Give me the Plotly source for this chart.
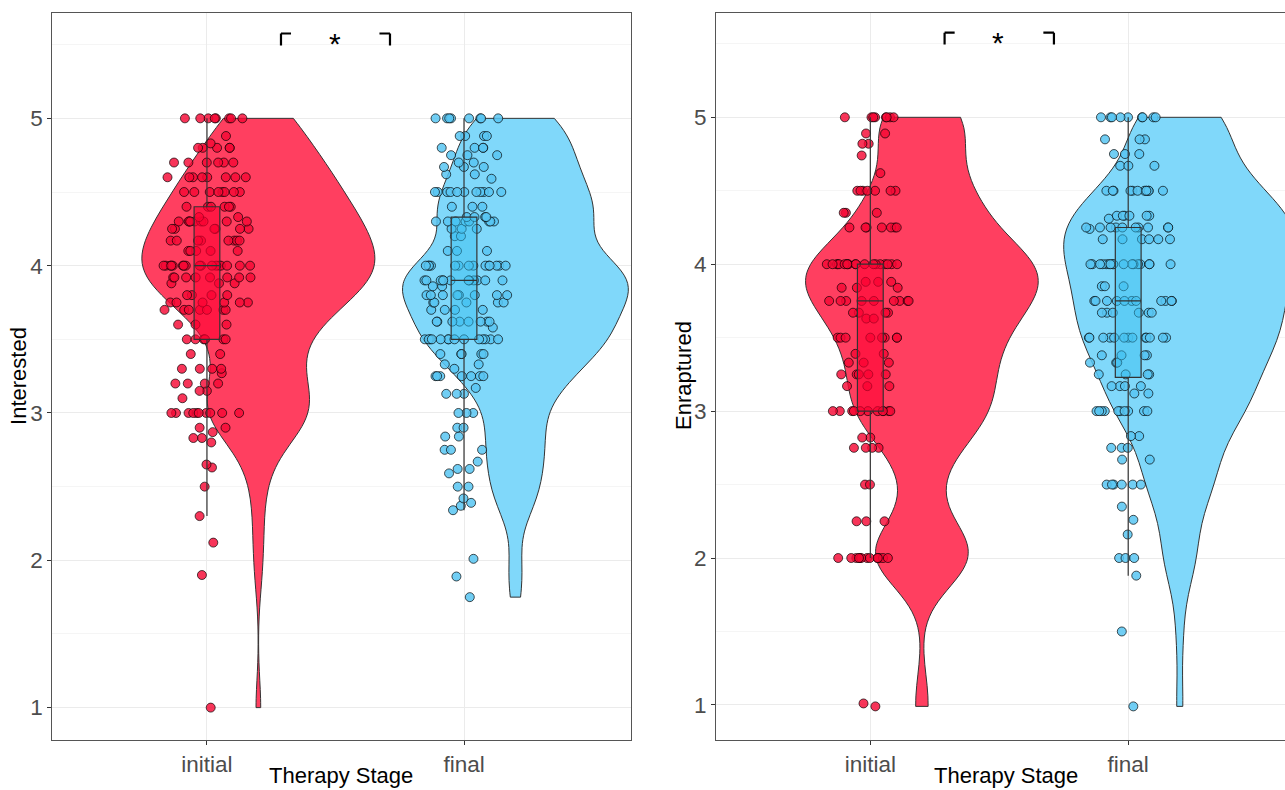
import numpy as np
import plotly.graph_objects as go

# ---------------- data ----------------
categories = ["initial", "final"]
cat_pos = [1, 2]

interested_initial = [
    5.0, 5.0, 5.0, 5.0, 5.0, 5.0, 5.0, 5.0,
    4.88,
    4.8, 4.8, 4.8, 4.8, 4.8, 4.83,
    4.7, 4.7, 4.7, 4.7, 4.7, 4.7,
    4.6, 4.6, 4.6, 4.6, 4.6, 4.6, 4.6, 4.6,
    4.5, 4.5, 4.5, 4.5, 4.5, 4.5, 4.5, 4.5,
    4.4, 4.4, 4.4, 4.4, 4.4, 4.4,
    4.33, 4.33,
    4.3, 4.3, 4.3, 4.3, 4.3, 4.3, 4.3, 4.3, 4.3,
    4.25, 4.25, 4.25, 4.25, 4.25, 4.25,
    4.17, 4.17, 4.17, 4.17, 4.17, 4.17, 4.17, 4.17,
    4.1, 4.1, 4.1, 4.1, 4.1,
    4.0, 4.0, 4.0, 4.0, 4.0, 4.0, 4.0, 4.0, 4.0, 4.0, 4.0, 4.0, 4.0, 4.0, 4.0, 4.0, 4.0,
    3.92, 3.92, 3.92, 3.92, 3.92, 3.92, 3.92, 3.92,
    3.88, 3.88, 3.88,
    3.8, 3.8, 3.8, 3.8,
    3.75, 3.75, 3.75, 3.75, 3.75, 3.75,
    3.7, 3.7, 3.7, 3.7, 3.7, 3.7, 3.7,
    3.6, 3.6, 3.6,
    3.5, 3.5, 3.5, 3.5, 3.5, 3.5,
    3.4, 3.4,
    3.3, 3.3, 3.3, 3.3, 3.27,
    3.2, 3.2, 3.2, 3.2,
    3.15, 3.15, 3.1,
    3.0, 3.0, 3.0, 3.0, 3.0, 3.0, 3.0, 3.0, 3.0, 3.0,
    2.9, 2.9, 2.87, 2.83, 2.83, 2.8,
    2.65, 2.63, 2.5, 2.3, 2.12, 1.9, 1.0,
]

interested_final = [
    5.0, 5.0, 5.0, 5.0, 5.0, 5.0, 5.0, 5.0,
    4.88, 4.88, 4.88, 4.88,
    4.8, 4.8, 4.8, 4.8,
    4.75, 4.75, 4.75,
    4.7, 4.7,
    4.67, 4.67, 4.67, 4.62, 4.62, 4.59,
    4.5, 4.5, 4.5, 4.5, 4.5, 4.5, 4.5, 4.5, 4.5, 4.5, 4.5,
    4.4, 4.4, 4.4,
    4.33, 4.33, 4.33, 4.33,
    4.3, 4.3, 4.3, 4.3, 4.3, 4.3, 4.3, 4.3,
    4.25, 4.25, 4.25,
    4.2, 4.2,
    4.1, 4.1, 4.1,
    4.0, 4.0, 4.0, 4.0, 4.0, 4.0, 4.0, 4.0, 4.0, 4.0, 4.0, 4.0, 4.0, 4.0,
    3.9, 3.9, 3.9, 3.9, 3.9, 3.9, 3.9, 3.9, 3.9, 3.9, 3.9, 3.9,
    3.86, 3.86,
    3.8, 3.8, 3.8, 3.8, 3.8, 3.8, 3.8, 3.8,
    3.75, 3.75, 3.75, 3.75, 3.75,
    3.7, 3.7, 3.7, 3.7,
    3.62, 3.62, 3.62, 3.62, 3.62, 3.62, 3.62, 3.62,
    3.58,
    3.5, 3.5, 3.5, 3.5, 3.5, 3.5, 3.5, 3.5, 3.5, 3.5, 3.5, 3.5, 3.5, 3.5,
    3.4, 3.4, 3.4, 3.4, 3.4,
    3.33, 3.33, 3.3,
    3.25, 3.25, 3.25, 3.25, 3.25, 3.25, 3.25,
    3.17, 3.13, 3.13, 3.13,
    3.0, 3.0, 3.0,
    2.9, 2.9, 2.84, 2.84,
    2.75, 2.75, 2.75, 2.67, 2.62, 2.62, 2.59,
    2.5, 2.5, 2.42, 2.39, 2.37, 2.34,
    2.01, 1.89, 1.75,
]

enraptured_initial = [
    5.0, 5.0, 5.0, 5.0, 5.0, 5.0, 5.0, 5.0,
    4.89, 4.89, 4.82, 4.82, 4.74, 4.62,
    4.5, 4.5, 4.5, 4.5, 4.5, 4.5, 4.5,
    4.35, 4.35, 4.35,
    4.25, 4.25, 4.25, 4.25, 4.25, 4.25, 4.25,
    4.0, 4.0, 4.0, 4.0, 4.0, 4.0, 4.0, 4.0, 4.0, 4.0,
    4.0, 4.0, 4.0, 4.0, 4.0, 4.0, 4.0, 4.0, 4.0,
    3.88, 3.88, 3.88,
    3.84, 3.84, 3.84,
    3.75, 3.75, 3.75, 3.75, 3.75, 3.75, 3.75, 3.75, 3.75,
    3.67, 3.67, 3.67, 3.67, 3.63, 3.63,
    3.5, 3.5, 3.5, 3.5, 3.5, 3.5, 3.5, 3.5,
    3.39, 3.39, 3.33, 3.33, 3.33,
    3.25, 3.25, 3.25, 3.25, 3.25,
    3.17, 3.17, 3.17,
    3.0, 3.0, 3.0, 3.0, 3.0, 3.0, 3.0, 3.0, 3.0, 3.0, 3.0,
    2.82, 2.82, 2.75, 2.75, 2.75, 2.75,
    2.5, 2.5, 2.25, 2.25, 2.25,
    2.0, 2.0, 2.0, 2.0, 2.0, 2.0, 2.0, 2.0, 2.0, 2.0, 2.0, 2.0, 2.0,
    1.01, 0.99,
]

enraptured_final = [
    5.0, 5.0, 5.0, 5.0, 5.0, 5.0, 5.0, 5.0, 5.0,
    4.85, 4.85, 4.85,
    4.75, 4.75, 4.75,
    4.67, 4.67, 4.67,
    4.5, 4.5, 4.5, 4.5, 4.5, 4.5, 4.5, 4.5, 4.5, 4.5, 4.5, 4.5,
    4.33, 4.33, 4.33, 4.33, 4.33, 4.33, 4.31,
    4.25, 4.25, 4.25, 4.25, 4.25, 4.25, 4.25, 4.25, 4.25, 4.25, 4.24,
    4.17, 4.17, 4.17, 4.17, 4.17, 4.17,
    4.0, 4.0, 4.0, 4.0, 4.0, 4.0, 4.0, 4.0, 4.0,
    4.0, 4.0, 4.0, 4.0, 4.0, 4.0, 4.0, 4.0,
    3.85, 3.85, 3.85,
    3.75, 3.75, 3.75, 3.75, 3.75, 3.75, 3.75, 3.75, 3.75, 3.75, 3.75,
    3.67, 3.67, 3.67, 3.67, 3.67, 3.67,
    3.5, 3.5, 3.5, 3.5, 3.5, 3.5, 3.5, 3.5, 3.5, 3.5, 3.5, 3.5, 3.5,
    3.38, 3.38, 3.38, 3.38,
    3.33, 3.33, 3.33,
    3.25, 3.25, 3.25, 3.25,
    3.17, 3.17, 3.17, 3.17,
    3.12, 3.12,
    3.0, 3.0, 3.0, 3.0, 3.0, 3.0, 3.0, 3.0, 3.0, 3.0,
    2.83, 2.83, 2.75, 2.75, 2.75, 2.67, 2.67,
    2.5, 2.5, 2.5, 2.5, 2.5, 2.5,
    2.35, 2.26, 2.16,
    2.0, 2.0, 2.0,
    1.88, 1.5, 0.99,
]

y_ticks = [1, 2, 3, 4, 5]
y_minor = [1.5, 2.5, 3.5, 4.5, 5.5]
y_titles = ["Interested", "Enraptured"]
x_title = "Therapy Stage"
sig_label = "*"

# ---------------- styles ----------------
FONT = "Liberation Sans, Arial, sans-serif"
RED_VIOLIN = "rgb(255,63,96)"
RED_POINT = "rgba(245,8,52,0.82)"
RED_BOX = "rgba(255,0,50,0.6)"
BLUE_VIOLIN = "rgb(128,216,250)"
BLUE_POINT = "rgba(88,198,242,0.85)"
BLUE_BOX = "rgba(50,190,240,0.45)"
OUTLINE = "#333333"

VIOLIN_OFFSET = 0.2
BOX_WIDTH = 0.1
JITTER_WIDTH = 0.34
BW_ADJUST = 0.85


def nrd0(vals):
    v = np.asarray(vals, dtype=float)
    q75, q25 = np.percentile(v, [75, 25])
    lo = min(np.std(v, ddof=1), (q75 - q25) / 1.34)
    return 0.9 * lo * len(v) ** (-0.2)


fig = go.Figure()

panels = [
    ("x", "y", [interested_initial, interested_final], [0.905, 0.878]),
    ("x2", "y2", [enraptured_initial, enraptured_final], [0.90, 0.90]),
]
violin_cols = [RED_VIOLIN, BLUE_VIOLIN]
point_cols = [RED_POINT, BLUE_POINT]
box_cols = [RED_BOX, BLUE_BOX]

for xa, ya, groups, vwidths in panels:
    for gi, vals in enumerate(groups):
        pos = cat_pos[gi]
        fig.add_trace(go.Violin(
            y=vals, x0=pos + VIOLIN_OFFSET, xaxis=xa, yaxis=ya,
            width=vwidths[gi], scalemode="width", spanmode="hard",
            bandwidth=BW_ADJUST * nrd0(vals), side="both", points=False,
            fillcolor=violin_cols[gi], opacity=1,
            line=dict(color=OUTLINE, width=1),
            box_visible=False, meanline_visible=False, hoverinfo="skip",
        ))
        # jittered points (box itself invisible)
        fig.add_trace(go.Box(
            y=vals, x0=pos, xaxis=xa, yaxis=ya, width=JITTER_WIDTH,
            boxpoints="all", jitter=1, pointpos=0,
            fillcolor="rgba(0,0,0,0)", line=dict(color="rgba(0,0,0,0)", width=0),
            whiskerwidth=0,
            marker=dict(color=point_cols[gi], size=9,
                        line=dict(color="rgba(0,0,0,0.85)", width=0.8)),
            hoverinfo="y",
        ))
        # visible narrow boxplot
        fig.add_trace(go.Box(
            y=vals, x0=pos, xaxis=xa, yaxis=ya, width=BOX_WIDTH,
            boxpoints="outliers", marker=dict(opacity=0, size=1),
            fillcolor=box_cols[gi], line=dict(color=OUTLINE, width=1.2),
            whiskerwidth=0, hoverinfo="skip",
        ))

axis_common = dict(
    type="linear", tickvals=cat_pos, ticktext=categories,
    showgrid=True, gridcolor="#EBEBEB", gridwidth=1, zeroline=False,
    ticks="outside", ticklen=4, tickcolor="#333333", tickwidth=1,
    tickfont=dict(family=FONT, size=22.5, color="#4D4D4D"),
    showline=True, linecolor="#555555", linewidth=1, mirror=True,
)
yaxis_common = dict(
    tickvals=y_ticks, showgrid=True, gridcolor="#EBEBEB", gridwidth=1,
    zeroline=False, ticks="outside", ticklen=4, tickcolor="#333333", tickwidth=1,
    tickfont=dict(family=FONT, size=22.5, color="#4D4D4D"),
    minor=dict(tickvals=y_minor, showgrid=True, gridcolor="#F5F5F5", ticks=""),
    showline=True, linecolor="#555555", linewidth=1,
    domain=[0.0627, 0.9839],
)

fig.update_layout(
    width=1285, height=790,
    margin=dict(l=0, r=0, t=0, b=0),
    paper_bgcolor="white", plot_bgcolor="white",
    showlegend=False,
    boxmode="overlay", violinmode="overlay",
    xaxis=dict(axis_common, domain=[0.04062, 0.49074], range=[0.398, 2.648], anchor="y"),
    xaxis2=dict(axis_common, domain=[0.55728, 1.0], range=[0.402, 2.608], anchor="y2"),
    yaxis=dict(yaxis_common, range=[0.777, 5.717], anchor="x", mirror=True),
    yaxis2=dict(yaxis_common, range=[0.758, 5.712], anchor="x2", mirror=False),
)

# significance brackets
BR_X = [1.288, 1.327, 1.671, 1.712]
BR_Y = [5.495, 5.576]
for xr, yr in [("x", "y"), ("x2", "y2")]:
    segs = [
        (BR_X[0], BR_Y[0], BR_X[0], BR_Y[1]),
        (BR_X[0], BR_Y[1], BR_X[1], BR_Y[1]),
        (BR_X[2], BR_Y[1], BR_X[3], BR_Y[1]),
        (BR_X[3], BR_Y[1], BR_X[3], BR_Y[0]),
    ]
    for x0, y0, x1, y1 in segs:
        fig.add_shape(type="line", xref=xr, yref=yr, x0=x0, y0=y0, x1=x1, y1=y1,
                      line=dict(color="black", width=2.2))
    fig.add_annotation(xref=xr, yref=yr, x=1.497, y=5.535, text=sig_label,
                       showarrow=False, yanchor="middle", yshift=-4,
                       font=dict(family=FONT, size=30, color="black"))

# axis titles
for xc, txt in [(0.01479, y_titles[0]), (0.5323, y_titles[1])]:
    fig.add_annotation(xref="paper", yref="paper", x=xc, y=0.5241, text=txt,
                       textangle=-90, showarrow=False, xanchor="center", yanchor="middle",
                       font=dict(family=FONT, size=22, color="black"))
for xc in [0.2657, 0.7829]:
    fig.add_annotation(xref="paper", yref="paper", x=xc, y=0.0, text=x_title,
                       showarrow=False, xanchor="center", yanchor="bottom",
                       font=dict(family=FONT, size=22, color="black"))

fig.write_html("out.html", config={"displayModeBar": False},
               post_script="document.body.style.margin='0px';document.body.style.padding='0px';")
